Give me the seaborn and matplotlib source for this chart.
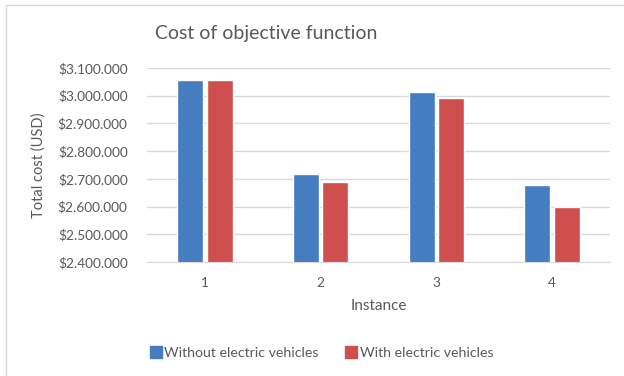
import pandas as pd
import matplotlib.pyplot as plt
import seaborn as sns
from matplotlib.lines import Line2D
from matplotlib.ticker import FuncFormatter

# values
instances = ["1", "2", "3", "4"]
without_ev = [3058000, 2717000, 3012000, 2678000]
with_ev = [3058000, 2690000, 2990000, 2598000]
series_names = ["Without electric vehicles", "With electric vehicles"]
colors = ["#447DC0", "#CE4F4E"]

df = pd.DataFrame({
    "Instance": instances * 2,
    "cost": without_ev + with_ev,
    "series": [series_names[0]] * 4 + [series_names[1]] * 4,
})

sns.set_style("white")
plt.rcParams["font.family"] = ["Lato", "DejaVu Sans"]
txt = "#595959"

fig = plt.figure(figsize=(6.24, 3.76), dpi=100)
ax = fig.add_axes([147 / 624, 1 - 262 / 376, (610 - 147) / 624, (262 - 68) / 376])

sns.barplot(data=df, x="Instance", y="cost", hue="series", palette=colors,
            width=0.51, gap=0.12, ax=ax, legend=False, saturation=1)

ax.set_ylim(2400000, 3100000)
ax.set_yticks(range(2400000, 3100001, 100000))
ax.yaxis.set_major_formatter(FuncFormatter(lambda v, p: "$" + f"{int(v):,}".replace(",", ".")))
ax.grid(axis="y", color="#D9D9D9", linewidth=1)
ax.set_axisbelow(True)
for s in ["top", "right", "left"]:
    ax.spines[s].set_visible(False)
ax.spines["bottom"].set_color("#D9D9D9")
ax.tick_params(length=0, labelsize=9.8, colors=txt)
ax.tick_params(axis="y", pad=14)
ax.tick_params(axis="x", pad=11)
ax.set_xlabel("Instance", fontsize=11, color=txt, labelpad=7)
ax.set_ylabel("")
fig.text(39 / 624, 1 - 165 / 376, "Total cost (USD)", rotation=90, ha="center",
         va="center", fontsize=10.5, color=txt)

fig.text(266 / 624, 1 - 33 / 376, "Cost of objective function", ha="center",
         va="center", fontsize=14, color=txt)

handles = [Line2D([], [], marker="s", linestyle="", markersize=8, color=c) for c in colors]
fig.legend(handles, series_names, loc="center", bbox_to_anchor=(321 / 624, 1 - 353 / 376),
           ncol=2, frameon=False, fontsize=10.2, labelcolor=txt, handletextpad=0.1,
           columnspacing=1.8, handlelength=1)

# chart area border (top and left edges visible)
fig.add_artist(Line2D([6 / 624, 1], [1 - 4.5 / 376, 1 - 4.5 / 376], color="#D9D9D9", lw=1))
fig.add_artist(Line2D([6 / 624, 6 / 624], [0, 1 - 4.5 / 376], color="#D9D9D9", lw=1))

plt.savefig("out.png", dpi=100)
